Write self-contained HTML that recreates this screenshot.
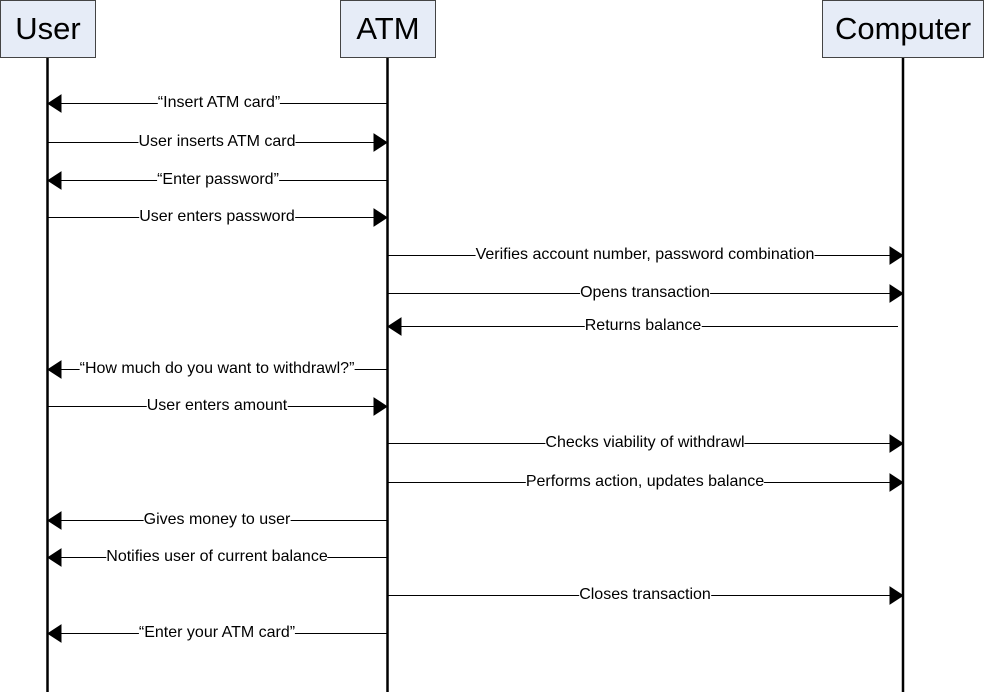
<!DOCTYPE html>
<html><head><meta charset="utf-8"><style>
body{margin:0;width:984px;height:692px;background:#fff;position:relative;overflow:hidden;font-family:"Liberation Sans",Arial,sans-serif}
svg{position:absolute;left:0;top:0}
.l{position:absolute;transform:translate(-50%,-50%);background:#fff;font-size:16px;white-space:nowrap;line-height:18px;color:#000;padding:0}
.h{position:absolute;font-size:31px;display:flex;align-items:center;justify-content:center;background:#e6ecf7;border:1px solid #444;box-sizing:border-box;height:58px;top:0}
</style></head><body>
<svg width="984" height="692">
<g stroke="#000" stroke-width="2.5">
<line x1="47.5" y1="57" x2="47.5" y2="692"/>
<line x1="387.5" y1="57" x2="387.5" y2="692"/>
<line x1="903" y1="57" x2="903" y2="692"/>
</g>
<g stroke="#000" stroke-width="1">
<line x1="387" y1="103.5" x2="58" y2="103.5"/><polygon points="48,103.5 61,95 61,112"/>
<line x1="48" y1="142.5" x2="377" y2="142.5"/><polygon points="387,142.5 374,134 374,151"/>
<line x1="387" y1="180.5" x2="58" y2="180.5"/><polygon points="48,180.5 61,172 61,189"/>
<line x1="48" y1="217.5" x2="377" y2="217.5"/><polygon points="387,217.5 374,209 374,226"/>
<line x1="388" y1="255.5" x2="892" y2="255.5"/><polygon points="903,255.5 890,247 890,264"/>
<line x1="388" y1="293.5" x2="892" y2="293.5"/><polygon points="903,293.5 890,285 890,302"/>
<line x1="898" y1="326.5" x2="398" y2="326.5"/><polygon points="388,326.5 401,318 401,335"/>
<line x1="387" y1="369.5" x2="58" y2="369.5"/><polygon points="48,369.5 61,361 61,378"/>
<line x1="48" y1="406.5" x2="377" y2="406.5"/><polygon points="387,406.5 374,398 374,415"/>
<line x1="388" y1="443.5" x2="892" y2="443.5"/><polygon points="903,443.5 890,435 890,452"/>
<line x1="388" y1="482.5" x2="892" y2="482.5"/><polygon points="903,482.5 890,474 890,491"/>
<line x1="387" y1="520.5" x2="58" y2="520.5"/><polygon points="48,520.5 61,512 61,529"/>
<line x1="387" y1="557.5" x2="58" y2="557.5"/><polygon points="48,557.5 61,549 61,566"/>
<line x1="388" y1="595.5" x2="892" y2="595.5"/><polygon points="903,595.5 890,587 890,604"/>
<line x1="387" y1="633.5" x2="58" y2="633.5"/><polygon points="48,633.5 61,625 61,642"/>
</g>
</svg>
<div class="h" style="left:0;width:96px">User</div>
<div class="h" style="left:340px;width:96px">ATM</div>
<div class="h" style="left:822px;width:162px">Computer</div>
<div class="l" style="left:219px;top:103px">“Insert ATM card”</div>
<div class="l" style="left:217px;top:142px">User inserts ATM card</div>
<div class="l" style="left:218px;top:180px">“Enter password”</div>
<div class="l" style="left:217px;top:217px">User enters password</div>
<div class="l" style="left:645px;top:255px">Verifies account number, password combination</div>
<div class="l" style="left:645px;top:293px">Opens transaction</div>
<div class="l" style="left:643px;top:326px">Returns balance</div>
<div class="l" style="left:217px;top:369px">“How much do you want to withdrawl?”</div>
<div class="l" style="left:217px;top:406px">User enters amount</div>
<div class="l" style="left:645px;top:443px">Checks viability of withdrawl</div>
<div class="l" style="left:645px;top:482px">Performs action, updates balance</div>
<div class="l" style="left:217px;top:520px">Gives money to user</div>
<div class="l" style="left:217px;top:557px">Notifies user of current balance</div>
<div class="l" style="left:645px;top:595px">Closes transaction</div>
<div class="l" style="left:217px;top:633px">“Enter your ATM card”</div>
</body></html>
